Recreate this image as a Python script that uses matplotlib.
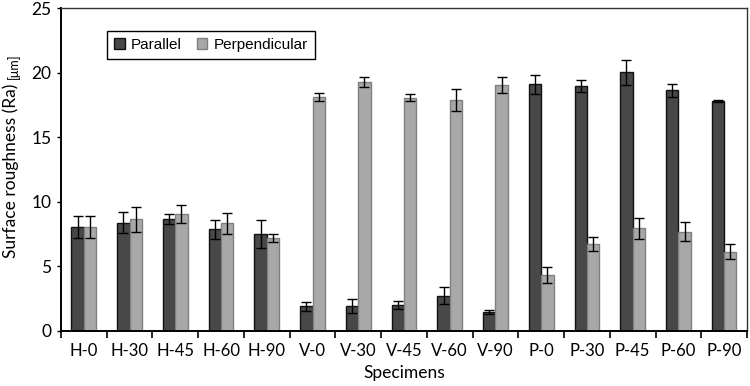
import numpy as np
import matplotlib
matplotlib.use("Agg")
import matplotlib.pyplot as plt
from matplotlib.ticker import FixedLocator

plt.rcParams['font.family'] = ['Lato', 'DejaVu Sans']

specimens = ['H-0', 'H-30', 'H-45', 'H-60', 'H-90',
             'V-0', 'V-30', 'V-45', 'V-60', 'V-90',
             'P-0', 'P-30', 'P-45', 'P-60', 'P-90']
parallel = [8.02, 8.40, 8.69, 7.86, 7.50,
            1.91, 1.93, 2.01, 2.73, 1.45,
            19.10, 19.00, 20.03, 18.64, 17.81]
parallel_err = [0.85, 0.78, 0.38, 0.70, 1.08,
                0.36, 0.57, 0.33, 0.67, 0.15,
                0.75, 0.46, 0.95, 0.49, 0.10]
perpendicular = [8.02, 8.64, 9.05, 8.33, 7.22,
                 18.12, 19.31, 18.07, 17.87, 19.05,
                 4.35, 6.73, 7.94, 7.68, 6.13]
perpendicular_err = [0.85, 0.97, 0.70, 0.80, 0.30,
                     0.34, 0.39, 0.26, 0.87, 0.62,
                     0.62, 0.54, 0.82, 0.73, 0.57]

fig = plt.figure(figsize=(7.5, 3.86), dpi=100)
ax = fig.add_axes([0.0813, 0.1425, 0.9147, 0.8365])

x = np.arange(len(specimens))
w = 0.27
ekw = dict(ecolor='black', elinewidth=1.0, capsize=3.5, capthick=1.0)
ax.bar(x - w / 2, parallel, w, yerr=parallel_err, color='#484848',
       edgecolor='#111111', linewidth=1.0, label='Parallel', error_kw=ekw, zorder=2)
ax.bar(x + w / 2, perpendicular, w, yerr=perpendicular_err, color='#a8a8a8',
       edgecolor='#808080', linewidth=1.0, label='Perpendicular', error_kw=ekw, zorder=2)

ax.set_xlim(-0.5, len(specimens) - 0.5)
ax.set_ylim(0, 25)
ax.set_yticks(np.arange(0, 26, 5))
ax.set_xticks(x)
ax.set_xticklabels(specimens)
ax.xaxis.set_minor_locator(FixedLocator(np.arange(-0.5, len(specimens), 1.0)))
ax.tick_params(axis='x', which='major', length=0, labelsize=12, pad=9)
ax.tick_params(axis='x', which='minor', length=5, width=1.2, direction='out')
ax.tick_params(axis='y', length=3, width=1.0, labelsize=12.5, pad=4)

for s in ['left', 'bottom']:
    ax.spines[s].set_linewidth(1.4)
for s in ['top', 'right']:
    ax.spines[s].set_linewidth(1.0)
    ax.spines[s].set_color('#333333')

ax.set_xlabel('Specimens', fontsize=12.5, labelpad=4)

# y label: main text plus smaller unit
lab = fig.text(0.014, (386 - 258) / 386, 'Surface roughness (Ra)', rotation=90,
               fontsize=12.5, ha='center', va='bottom')
fig.canvas.draw()
bb = lab.get_window_extent().transformed(fig.transFigure.inverted())
fig.text(0.0175, bb.y1 + 0.012, '[\u03bcm]', rotation=90, fontsize=9,
         ha='center', va='bottom')

leg = ax.legend(loc='upper left', bbox_to_anchor=(0.067, 0.929), ncol=2,
                borderaxespad=0, fancybox=False, edgecolor='black', framealpha=1,
                handlelength=0.7, handleheight=0.7, handletextpad=0.4,
                columnspacing=1.0, borderpad=0.45,
                prop={'family': ['Liberation Sans'], 'size': 11})
leg.get_frame().set_linewidth(1.0)

fig.savefig('out.png', dpi=100)
